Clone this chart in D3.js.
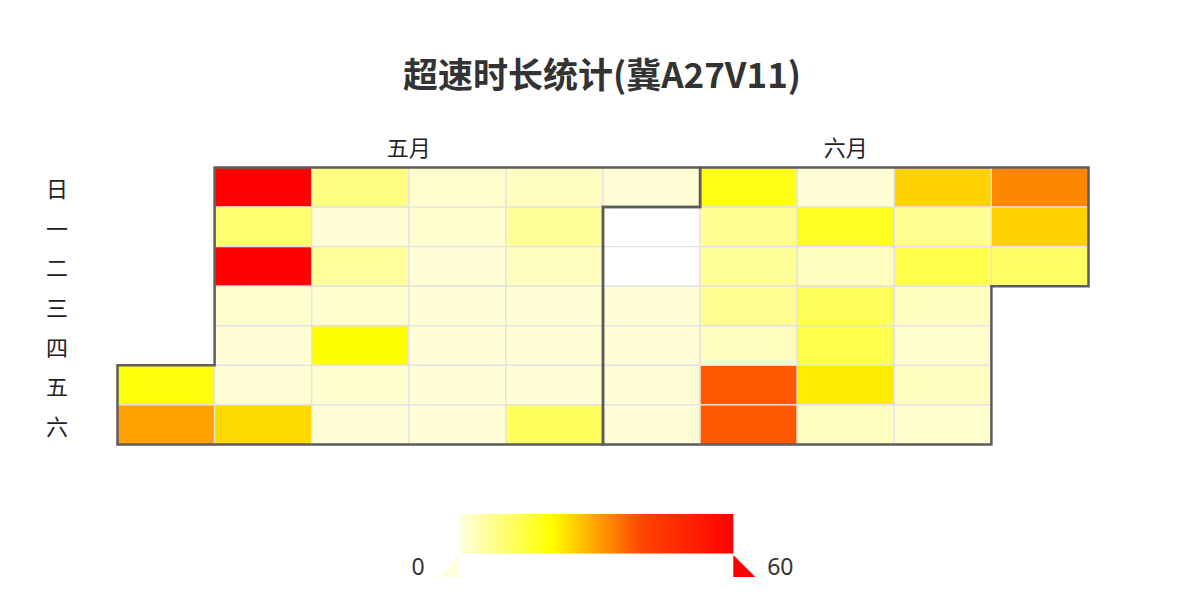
<!DOCTYPE html>
<html><head><meta charset="utf-8">
<script src="https://cdn.jsdelivr.net/npm/d3@7"></script>
<style>html,body{margin:0;padding:0;background:#fff;}svg{display:block;}</style>
</head><body>
<svg id="chart" width="1184" height="600"></svg>
<script>
const title = "超速时长统计(冀A27V11)";
const monthLabels = ["五月", "六月"];
const dayLabels = ["日", "一", "二", "三", "四", "五", "六"];
const rangeStart = "2020-05-01";
const rangeEnd = "2020-06-30";
const dates = [
 "2020-05-01","2020-05-02","2020-05-03","2020-05-04","2020-05-05","2020-05-06","2020-05-07","2020-05-08","2020-05-09","2020-05-10",
 "2020-05-11","2020-05-12","2020-05-13","2020-05-14","2020-05-15","2020-05-16","2020-05-17","2020-05-18","2020-05-19","2020-05-20",
 "2020-05-21","2020-05-22","2020-05-23","2020-05-24","2020-05-25","2020-05-26","2020-05-27","2020-05-28","2020-05-29","2020-05-30",
 "2020-05-31","2020-06-01","2020-06-02","2020-06-03","2020-06-04","2020-06-05","2020-06-06","2020-06-07","2020-06-08","2020-06-09",
 "2020-06-10","2020-06-11","2020-06-12","2020-06-13","2020-06-14","2020-06-15","2020-06-16","2020-06-17","2020-06-18","2020-06-19",
 "2020-06-20","2020-06-21","2020-06-22","2020-06-23","2020-06-24","2020-06-25","2020-06-26","2020-06-27","2020-06-28","2020-06-29",
 "2020-06-30"
];
const values = [
 19, 30, 60, 10, 60, 1.5, 1, 1, 24, 8.5,
 1, 6, 1.5, 20, 1.5, 1, 2, 1.5, 1, 1,
 1, 1, 1, 3, 6.5, 3, 1, 1, 1, 12,
 1, null, null, 1, 1, 1, 1, 18, 7, 6.5,
 7, 3, 38, 38, 1, 17, 3, 12, 13, 22,
 3, 25, 7, 13, 3, 2, 3, 1.5, 33, 25,
 11
];
const visualMin = 0, visualMax = 60;
const colorStops = ["#fffee0", "#ffff00", "#ff4500", "#ff0000"];

const svg = d3.select("#chart");
const parse = d3.timeParse("%Y-%m-%d");
const start = parse(rangeStart), end = parse(rangeEnd);
const startWeek = d3.timeWeek.floor(start);
const weekOf = d => d3.timeWeek.count(startWeek, d);
const nWeeks = weekOf(end) + 1;

const x = d3.scaleBand().domain(d3.range(nWeeks + 1)).range([117.5, 1088.5 + (1088.5 - 117.5) / nWeeks]).padding(0);
const y = d3.scaleBand().domain(d3.range(8)).range([167.5, 444.5 + (444.5 - 167.5) / 7]).padding(0);
const X = i => x(i), Y = i => y(i);

const color = d3.scaleLinear()
  .domain(d3.range(colorStops.length).map(i => visualMin + i * (visualMax - visualMin) / (colorStops.length - 1)))
  .range(colorStops).clamp(true);

// title
svg.append("text").attr("x", 602).attr("y", 88).attr("text-anchor", "middle")
  .attr("font-family", "'Noto Sans CJK SC', 'Noto Sans', sans-serif").attr("font-weight", "bold")
  .attr("font-size", 35).attr("fill", "#333").text(title);

// cells
const cells = dates.map((s, i) => ({ d: parse(s), v: values[i] }));
svg.append("g").selectAll("rect").data(cells).join("rect")
  .attr("x", c => X(weekOf(c.d))).attr("y", c => Y(c.d.getDay()))
  .attr("width", x.bandwidth()).attr("height", y.bandwidth())
  .attr("fill", c => c.v == null ? "#ffffff" : color(c.v))
  .attr("stroke", "#e2e2e2").attr("stroke-width", 1.3);

// month outlines
const months = d3.timeMonth.range(d3.timeMonth.floor(start), end);
const outlines = svg.append("g");
months.forEach((m, mi) => {
  const f = m < start ? start : m;
  let l = d3.timeDay.offset(d3.timeMonth.offset(m, 1), -1);
  if (l > end) l = end;
  const wf = weekOf(f), df = f.getDay(), wl = weekOf(l), dl = l.getDay();
  const pts = [[X(wf), Y(df)], [X(wf + 1), Y(df)], [X(wf + 1), Y(0)], [X(wl + 1), Y(0)],
               [X(wl + 1), Y(dl + 1)], [X(wl), Y(dl + 1)], [X(wl), Y(7)], [X(wf), Y(7)]];
  outlines.append("path").attr("d", d3.line()(pts) + "Z")
    .attr("fill", "none").attr("stroke", "#5c5c5c").attr("stroke-width", 2.5).attr("stroke-linejoin", "miter");
  svg.append("text").attr("x", (X(wf) + X(wl + 1)) / 2).attr("y", 146)
    .attr("text-anchor", "middle").attr("dominant-baseline", "central")
    .attr("font-family", "'Noto Sans CJK SC', sans-serif").attr("font-size", 22).attr("fill", "#222")
    .text(monthLabels[mi]);
});

// day labels
svg.append("g").selectAll("text").data(dayLabels).join("text")
  .attr("x", 57).attr("y", (d, i) => Y(i) + y.bandwidth() / 2)
  .attr("text-anchor", "middle").attr("dominant-baseline", "central")
  .attr("font-family", "'Noto Sans CJK SC', sans-serif").attr("font-size", 22).attr("fill", "#222")
  .text(d => d);

// visual map
const vx = d3.scaleLinear().domain([visualMin, visualMax]).range([460, 733.3]);
const defs = svg.append("defs");
const grad = defs.append("linearGradient").attr("id", "vmgrad").attr("x1", "0%").attr("x2", "100%").attr("y1", "0%").attr("y2", "0%");
d3.range(0, 61, 2).forEach(v => {
  grad.append("stop").attr("offset", (v - visualMin) / (visualMax - visualMin)).attr("stop-color", color(v));
});
svg.append("rect").attr("x", vx(visualMin)).attr("y", 514).attr("width", vx(visualMax) - vx(visualMin)).attr("height", 39.5)
  .attr("fill", "url(#vmgrad)");
svg.append("path").attr("d", d3.line()([[vx(visualMin), 555], [vx(visualMin), 577], [vx(visualMin) - 22, 577]]) + "Z")
  .attr("fill", color(visualMin));
svg.append("path").attr("d", d3.line()([[vx(visualMax), 555], [vx(visualMax), 577], [vx(visualMax) + 22, 577]]) + "Z")
  .attr("fill", color(visualMax));
svg.append("text").attr("x", vx(visualMin) - 42).attr("y", 566).attr("text-anchor", "middle").attr("dominant-baseline", "central")
  .attr("font-family", "'Noto Sans', sans-serif").attr("font-size", 23).attr("fill", "#333").text(visualMin);
svg.append("text").attr("x", vx(visualMax) + 47).attr("y", 566).attr("text-anchor", "middle").attr("dominant-baseline", "central")
  .attr("font-family", "'Noto Sans', sans-serif").attr("font-size", 23).attr("fill", "#333").text(visualMax);
</script>
</body></html>
